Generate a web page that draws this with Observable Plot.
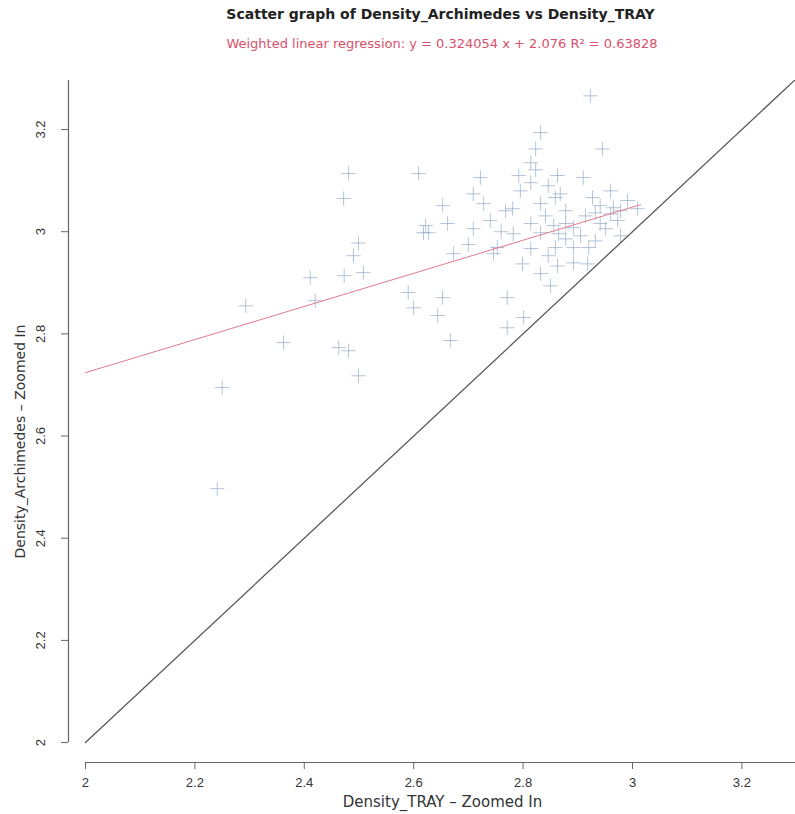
<!DOCTYPE html>
<html><head><meta charset="utf-8">
<script src="https://cdn.jsdelivr.net/npm/d3@7"></script>
<script src="https://cdn.jsdelivr.net/npm/@observablehq/plot@0.6"></script>
<style>body{margin:0;background:#fff;} #chart svg{display:block;}</style>
</head><body><div id="chart"></div>
<script>
const densityTray = [
  2.241, 2.250, 2.293, 2.362, 2.411, 2.420, 2.463, 2.481, 2.499, 2.472,
  2.481, 2.490, 2.499, 2.473, 2.508, 2.609, 2.622, 2.627, 2.618, 2.662,
  2.653, 2.590, 2.600, 2.644, 2.653, 2.667, 2.673,
  2.923, 2.832, 2.945, 2.823, 2.814, 2.823, 2.792, 2.863, 2.910, 2.722,
  2.814, 2.709, 2.728, 2.859, 2.868, 2.832, 2.781, 2.927, 2.941, 2.965,
  2.991, 3.009, 2.740, 2.709, 2.814, 2.856, 2.878, 2.892, 2.941, 2.960,
  2.973, 2.782, 2.832, 2.865, 2.753, 2.746, 2.814, 2.859, 2.892, 2.920,
  2.799, 2.832, 2.863, 2.892, 2.918, 2.850, 2.771, 2.801, 2.771,
  2.841, 2.878, 2.914, 2.932, 2.978, 2.905, 2.932, 2.951, 2.795, 2.846,
  2.960, 2.878, 2.768, 2.846, 2.978, 2.700, 2.760
];
const densityArchimedes = [
  2.497, 2.695, 2.855, 2.783, 2.910, 2.865, 2.773, 2.767, 2.718, 3.065,
  3.114, 2.953, 2.978, 2.914, 2.920, 3.114, 3.012, 2.998, 2.998, 3.016,
  3.051, 2.881, 2.851, 2.836, 2.871, 2.787, 2.957,
  3.266, 3.194, 3.162, 3.162, 3.135, 3.121, 3.110, 3.110, 3.106, 3.106,
  3.096, 3.074, 3.055, 3.067, 3.074, 3.055, 3.045, 3.067, 3.051, 3.047,
  3.061, 3.045, 3.022, 3.006, 3.016, 3.012, 3.016, 3.008, 3.016, 3.035,
  3.022, 2.996, 2.998, 2.996, 2.969, 2.957, 2.967, 2.969, 2.969, 2.969,
  2.937, 2.918, 2.933, 2.939, 2.937, 2.894, 2.871, 2.832, 2.812,
  3.031, 3.041, 3.031, 3.037, 3.041, 2.992, 2.982, 3.006, 3.080, 3.090,
  3.080, 2.986, 3.041, 2.953, 2.992, 2.975, 3.000
];
const xTicks = [2, 2.2, 2.4, 2.6, 2.8, 3, 3.2];
const yTicks = [2, 2.2, 2.4, 2.6, 2.8, 3, 3.2];
const titleText = "Scatter graph of Density_Archimedes vs Density_TRAY";
const subtitleText = "Weighted linear regression: y = 0.324054 x + 2.076 R² = 0.63828";
const xLabel = "Density_TRAY – Zoomed In";
const yLabel = "Density_Archimedes – Zoomed In";
const slope = 0.324054;
const intercept = 2.076;
const fitRange = [2, 3.015];
const identityRange = [2, 3.3];
const xDomain = [1.969, 3.298];
const yDomain = [1.961, 3.296];

const points = densityTray.map((x, i) => ({x, y: densityArchimedes[i]}));
const fitLine = fitRange.map(x => ({x, y: slope * x + intercept}));
const identity = identityRange.map(v => ({x: v, y: v}));

const labelFont = "'DejaVu Sans', Verdana, sans-serif";

const chart = Plot.plot({
  width: 795,
  height: 814,
  marginLeft: 68,
  marginRight: 0,
  marginTop: 80,
  marginBottom: 52,
  style: {fontFamily: "'Liberation Sans', Arial, sans-serif", fontSize: "13px", color: "#333", background: "#fff"},
  x: {domain: xDomain, axis: null},
  y: {domain: yDomain, axis: null},
  marks: [
    Plot.ruleY([yDomain[0]], {x1: xTicks[0], x2: xDomain[1], stroke: "#666", strokeWidth: 1.2}),
    Plot.ruleX([xDomain[0]], {y1: yTicks[0], y2: yDomain[1], stroke: "#666", strokeWidth: 1.2}),
    Plot.axisX({ticks: xTicks, anchor: "bottom", tickSize: 7, tickPadding: 8, tickFormat: d => String(d), label: null, stroke: "#666", fill: "#333", fontSize: 13}),
    Plot.axisY({ticks: yTicks, anchor: "left", tickSize: 7, tickFormat: () => "", label: null, stroke: "#666"}),
    Plot.text(yTicks, {y: d => d, text: d => String(d), frameAnchor: "left", textAnchor: "middle", lineAnchor: "middle", dx: -28, rotate: -90, fill: "#333", fontSize: 13}),
    Plot.dot(points, {x: "x", y: "y", symbol: "plus", r: 4.7, stroke: "#9ab0ca", strokeWidth: 1, strokeOpacity: 0.75}),
    Plot.line(identity, {x: "x", y: "y", stroke: "#5a5a5a", strokeWidth: 1.3, clip: true}),
    Plot.line(fitLine, {x: "x", y: "y", stroke: "#e07a8c", strokeWidth: 1}),
    Plot.text([titleText], {text: d => d, frameAnchor: "top", textAnchor: "middle", lineAnchor: "middle", dx: 8.5, dy: -66, fontWeight: "bold", fontSize: 14, fontFamily: labelFont, fill: "#222"}),
    Plot.text([subtitleText], {text: d => d, frameAnchor: "top", textAnchor: "middle", lineAnchor: "middle", dx: 10, dy: -37, fontSize: 13, fontFamily: labelFont, fill: "#d9506a"}),
    Plot.text([xLabel], {text: d => d, frameAnchor: "bottom", textAnchor: "middle", lineAnchor: "middle", dx: 10.5, dy: 40, fontSize: 15, fontFamily: labelFont, fill: "#333"}),
    Plot.text([yLabel], {text: d => d, frameAnchor: "left", textAnchor: "middle", lineAnchor: "middle", dx: -48, dy: 20, rotate: -90, fontSize: 14, fontFamily: labelFont, fill: "#333"})
  ]
});
document.getElementById("chart").append(chart);
</script>
</body></html>
